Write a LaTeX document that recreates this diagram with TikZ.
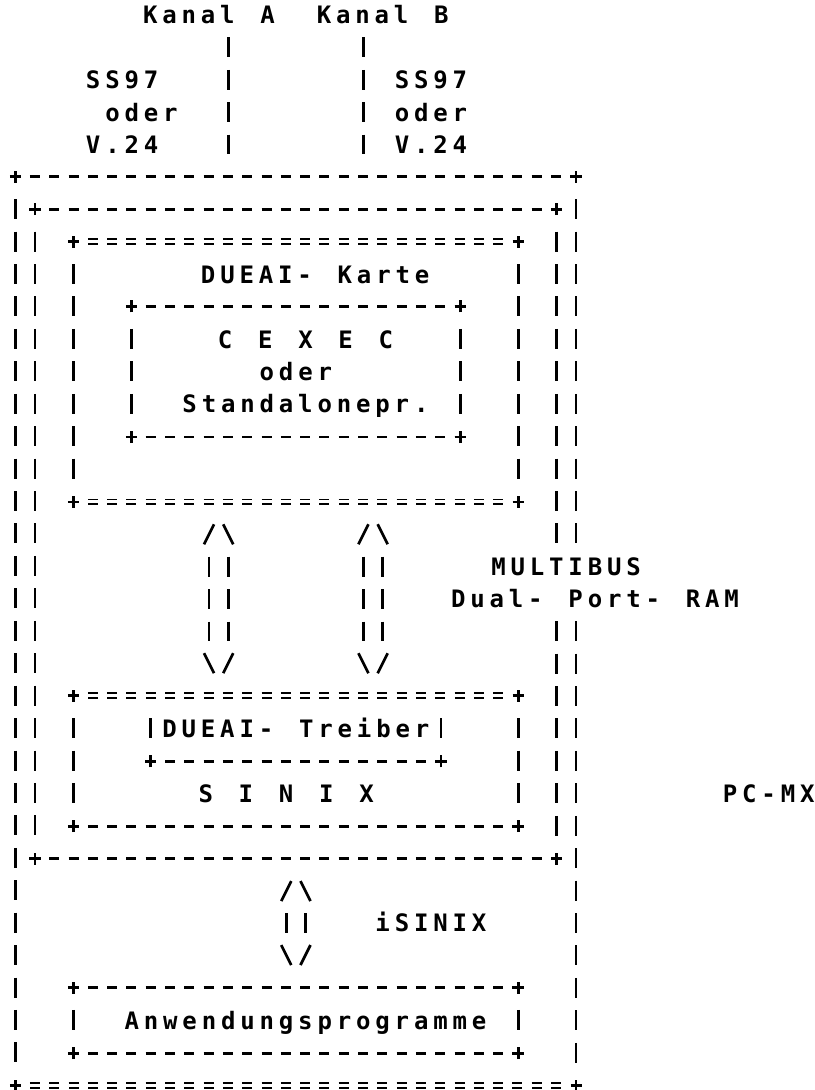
\documentclass[tikz,border=0pt]{standalone}
\usepackage{fontspec}
\usepackage{tikz}
\usetikzlibrary{positioning,calc,fit}
\newfontfamily\asciifont[LetterSpace=20.2,WordSpace={1.3358,0,0}]{DejaVu Sans Mono}
\tikzset{
  lbl/.style    = {font=\asciifont\bfseries\fontsize{12pt}{14pt}\selectfont, inner sep=0pt, anchor=base, yshift=-4.4pt},
  frame/.style  = {inner sep=0pt},
  hedge/.style  = {line width=1.35pt, dash pattern=on 5pt off 4.65pt, dash phase=2.5pt},
  heq/.style    = {line width=0.9pt, double, double distance=1.4pt, dash pattern=on 5pt off 4.65pt, shorten <=7.15pt, shorten >=7.15pt},
  vedge/.style  = {line width=1.35pt, dash pattern=on 10pt off 6.215pt, shorten <=11.215pt, shorten >=11.215pt},
  shaft/.style  = {vedge, shorten <=27.43pt, shorten >=27.43pt},
  plus/.pic     = {\draw[line width=1.35pt] (-2.8pt,0) -- (2.8pt,0) (0,-3pt) -- (0,3pt);},
  uphead/.pic   = {\draw[line width=1.35pt] (-7.3pt,-5pt) -- (-2.3pt,5pt) (2.3pt,5pt) -- (7.3pt,-5pt);},
  downhead/.pic = {\draw[line width=1.35pt] (-7.3pt,5pt) -- (-2.3pt,-5pt) (2.3pt,-5pt) -- (7.3pt,5pt);},
}

\begin{document}
\begin{tikzpicture}[x=9.65pt, y=-16.215pt]
  \useasboundingbox (-0.829,-0.4625) rectangle (41.347,33.148);
  % boxes (one column / one row of the print grid per unit)
  \node[frame, fit={(0,5) (29,33)}]  (pcmx)    {};
  \node[frame, fit={(1,6) (28,26)}]  (bus)     {};
  \node[frame, fit={(3,7) (26,15)}]  (karte)   {};
  \node[frame, fit={(6,9) (23,13)}]  (cexec)   {};
  \node[frame, fit={(3,21) (26,25)}] (sinix)   {};
  \node[frame, fit={(7,21) (22,23)}] (treiber) {};
  \node[frame, fit={(3,30) (26,32)}] (anw)     {};

  \node[lbl] (kanalA)   at (10,0)    {Kanal A};
  \node[lbl] (kanalB)   at (19,0)    {Kanal B};
  \node[lbl] (ssA)      at (5.5,2)   {SS97};
  \node[lbl] (oderA)    at (6.5,3)   {oder};
  \node[lbl] (v24A)     at (5.5,4)   {V.24};
  \node[lbl] (ssB)      at (21.5,2)  {SS97};
  \node[lbl] (oderB)    at (21.5,3)  {oder};
  \node[lbl] (v24B)     at (21.5,4)  {V.24};
  \node[lbl] (karteL)   at (15.5,8)  {DUEAI- Karte};
  \node[lbl] (cexecL)   at (15,10)   {C E X E C};
  \node[lbl] (oderC)    at (14.5,11) {oder};
  \node[lbl] (standL)   at (15,12)   {Standalonepr.};
  \node[lbl] (multibus) at (28.5,17) {MULTIBUS};
  \node[lbl] (dpram)    at (30,18)   {Dual- Port- RAM};
  \node[lbl] (treiberL) at (14.5,22) {DUEAI- Treiber};
  \node[lbl] (sinixL)   at (14,24)   {S I N I X};
  \node[lbl] (pcmxL)    at (39,24)   {PC-MX};
  \node[lbl] (isinix)   at (21.5,28) {iSINIX};
  \node[lbl] (anwL)     at (15,31)   {Anwendungsprogramme};

  % edges
  \foreach \b in {pcmx,bus,cexec,anw} \draw[hedge] (\b.north west) -- (\b.north east);
  \foreach \b in {karte,sinix} \draw[heq] (\b.north west) -- (\b.north east);
  \foreach \b in {bus,cexec,sinix,treiber,anw} \draw[hedge] (\b.south west) -- (\b.south east);
  \foreach \b in {pcmx,karte} \draw[heq] (\b.south west) -- (\b.south east);
  \foreach \b in {pcmx,bus,karte,cexec,sinix,treiber,anw} \draw[vedge] (\b.north west) -- (\b.south west);
  \foreach \b in {karte,cexec,sinix,treiber,anw} \draw[vedge] (\b.north east) -- (\b.south east);
  \foreach \b in {pcmx,bus} {
    \draw[vedge] (\b.north east) -- (\b.east |- 0,17);
    \draw[vedge] (\b.east |- 0,18) -- (\b.south east);
  }
  \foreach \b in {pcmx,bus,karte,cexec,sinix,anw}
    \foreach \c in {north west,north east,south west,south east} \pic at (\b.\c) {plus};
  \pic at (treiber.south west) {plus};
  \pic at (treiber.south east) {plus};

  % channels
  \coordinate (chA) at (11,0);
  \coordinate (chB) at (18,0);
  \draw[vedge] (chA) -- (chA |- pcmx.north);
  \draw[vedge] (chB) -- (chB |- pcmx.north);

  % double arrows
  \foreach \x in {10,11,18,19} \draw[shaft] (karte.south -| \x,0) -- (sinix.north -| \x,0);
  \foreach \x in {10.5,18.5} {
    \pic at ($(karte.south -| \x,0)+(0,1)$) {uphead};
    \pic at ($(sinix.north -| \x,0)+(0,-1)$) {downhead};
  }
  \foreach \x in {14,15} \draw[shaft] (bus.south -| \x,0) -- (anw.north -| \x,0);
  \pic at ($(bus.south -| 14.5,0)+(0,1)$) {uphead};
  \pic at ($(anw.north -| 14.5,0)+(0,-1)$) {downhead};
\end{tikzpicture}
\end{document}
